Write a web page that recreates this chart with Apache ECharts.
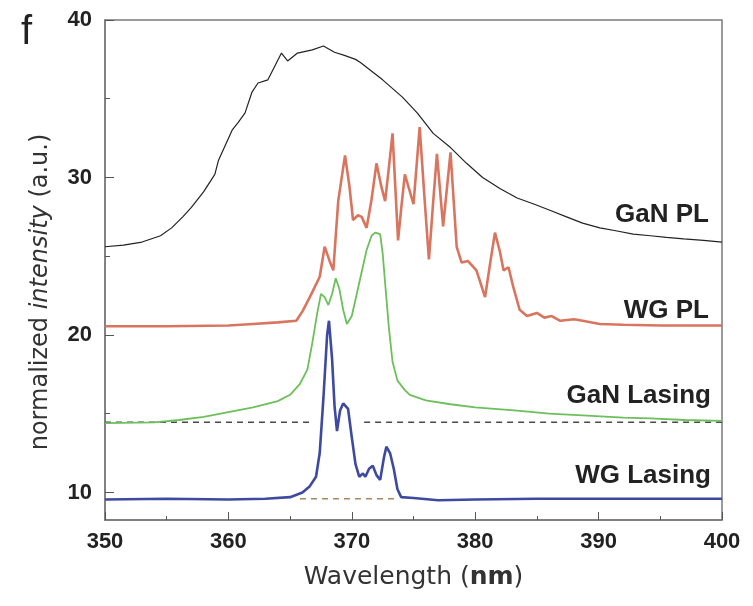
<!DOCTYPE html>
<html>
<head>
<meta charset="utf-8">
<script src="https://cdn.jsdelivr.net/npm/echarts@6/dist/echarts.min.js"></script>
<style>
  html, body { margin: 0; padding: 0; background: #fff; }
  #plChart { width: 753px; height: 606px; }
</style>
</head>
<body>
<div id="plChart"></div>
<script>
// 读图得到的数据 [波长nm, 强度]
var ganPL = [
  [350, 25.6], [351.5, 25.7], [353, 25.9], [354.5, 26.3], [355.4, 26.8], [356.3, 27.5],
  [357, 28.1], [358, 29.1], [358.9, 30.2], [359.2, 31.1], [360.3, 33.0], [360.8, 33.5],
  [361.35, 34.1], [361.9, 35.4], [362.4, 36.0], [363.2, 36.2], [364.3, 37.9], [364.8, 37.4],
  [365.6, 37.9], [366.8, 38.1], [367.7, 38.35], [368.6, 37.95], [369.4, 37.75], [370.3, 37.5],
  [370.7, 37.3], [372.5, 36.2], [374.1, 35.1], [375.3, 34.1], [376.6, 32.8], [378, 31.9],
  [379.3, 30.9], [380.6, 30.0], [382, 29.3], [383.4, 28.7], [384.8, 28.3], [386.1, 27.9],
  [387.4, 27.5], [388.7, 27.1], [390.1, 26.8], [391.5, 26.6], [392.8, 26.4], [394.2, 26.3],
  [395.5, 26.2], [396.9, 26.1], [398.5, 26.0], [400, 25.9]
];
var wgPL = [
  [350, 20.55], [355, 20.55], [360, 20.6], [362, 20.7], [364, 20.8], [365.5, 20.9],
  [366, 21.5], [366.6, 22.4], [367.4, 23.7], [367.8, 25.6], [368.2, 24.7], [368.5, 24.1],
  [368.9, 28.5], [369.45, 31.4], [369.8, 29.5], [370.1, 27.3], [370.5, 27.6], [370.8, 27.5],
  [371.2, 26.8], [371.6, 28.6], [372.0, 30.9], [372.4, 29.4], [372.7, 28.5], [373.0, 30.6],
  [373.3, 32.8], [373.75, 26.0], [374.0, 28.0], [374.3, 30.2], [375.0, 28.3], [375.5, 33.2],
  [375.9, 28.6], [376.25, 24.8], [376.6, 28.5], [376.9, 31.5], [377.4, 26.9], [378.0, 31.6],
  [378.5, 25.6], [378.9, 24.6], [379.4, 24.7], [380.1, 24.1], [380.8, 22.4], [381.2, 24.5],
  [381.6, 26.5], [382.0, 25.3], [382.3, 24.1], [382.7, 24.3], [383.1, 23.0], [383.6, 21.6],
  [384.2, 21.2], [385.0, 21.4], [385.6, 21.1], [386.2, 21.2], [386.9, 20.9], [388, 21.0],
  [388.7, 20.9], [390.1, 20.7], [392, 20.65], [395, 20.6], [400, 20.6]
];
var ganLasing = [
  [350, 14.4], [354, 14.45], [356, 14.6], [358, 14.8], [360, 15.1], [362, 15.4], [364, 15.8],
  [365, 16.2], [365.8, 16.9], [366.4, 17.8], [366.8, 19.5], [367.2, 21.4], [367.5, 22.6],
  [367.8, 22.4], [368.1, 21.9], [368.4, 22.6], [368.7, 23.6], [369.0, 22.9], [369.3, 21.6],
  [369.6, 20.7], [370.0, 21.2], [370.4, 22.6], [370.8, 24.0], [371.2, 25.4], [371.6, 26.3],
  [371.9, 26.5], [372.3, 26.4], [372.5, 25.2], [372.7, 23.3], [373.0, 20.5], [373.3, 18.3],
  [373.7, 17.1], [374.3, 16.5], [374.7, 16.2], [376, 15.85], [378, 15.6], [380, 15.4],
  [383.4, 15.2], [386, 15.0], [388.7, 14.9], [392, 14.75], [394.2, 14.7], [397, 14.6], [400, 14.55]
];
var wgLasing = [
  [350, 9.55], [355, 9.6], [360, 9.55], [363, 9.6], [365, 9.7], [366, 10.0], [366.6, 10.4],
  [367.1, 11.0], [367.4, 12.5], [367.7, 16.0], [368.0, 20.0], [368.15, 20.9], [368.4, 18.5],
  [368.6, 15.5], [368.8, 13.9], [369.05, 15.2], [369.3, 15.65], [369.7, 15.3], [370.0, 13.5],
  [370.3, 11.8], [370.6, 11.0], [370.9, 11.2], [371.1, 11.0], [371.4, 11.5], [371.7, 11.7],
  [372.0, 11.1], [372.3, 10.8], [372.6, 12.2], [372.8, 12.9], [373.1, 12.5], [373.4, 11.5],
  [373.7, 10.2], [374.0, 9.7], [375, 9.65], [377, 9.5], [380, 9.55], [385, 9.6], [390, 9.6],
  [395, 9.6], [400, 9.6]
];
// 虚线基线
var ganBase = [[350, 14.45], [366.6, 14.45], [368.5, null], [371, 14.45], [400, 14.45]];
var wgBase = [[365.8, 9.6], [373.7, 9.6]];

var yTicks = [10, 20, 30, 40];
var yMinorTicks = [15, 25, 35];
var curveLabels = ['GaN PL', 'WG PL', 'GaN Lasing', 'WG Lasing'];

var plChart = echarts.init(document.getElementById('plChart'));

function lineSeries(name, data, color, width, dash) {
  return {
    name: name,
    type: 'line',
    data: data,
    showSymbol: false,
    symbol: 'none',
    silent: true,
    connectNulls: false,
    lineStyle: { color: color, width: width, type: dash ? [6, 5] : 'solid' }
  };
}

var labelFont = { fontFamily: 'Liberation Sans', fontWeight: 'bold', fontSize: 26, fill: '#222' };

plChart.setOption({
  animation: false,
  grid: {
    left: 105, right: 31, top: 20, bottom: 86,
    show: true, borderColor: '#7a7a7a', borderWidth: 1.5
  },
  xAxis: {
    type: 'value', min: 350, max: 400, interval: 10,
    name: '{a|Wavelength (}{b|nm}{a|)}',
    nameLocation: 'middle', nameGap: 45,
    nameTextStyle: {
      rich: {
        a: { fontFamily: 'DejaVu Sans', fontSize: 25, color: '#333' },
        b: { fontFamily: 'DejaVu Sans', fontSize: 25, fontWeight: 'bold', color: '#333' }
      }
    },
    axisLine: { lineStyle: { color: '#7a7a7a', width: 1.5 } },
    axisTick: { inside: true, length: 8, lineStyle: { color: '#555' } },
    minorTick: { show: true, splitNumber: 2, length: 4, lineStyle: { color: '#555' } },
    splitLine: { show: false },
    axisLabel: {
      margin: 11, color: '#222', fontFamily: 'Liberation Sans',
      fontWeight: 'bold', fontSize: 22
    }
  },
  yAxis: [{
    type: 'value', min: 8.25, max: 40,
    axisLine: { show: true, lineStyle: { color: '#7a7a7a', width: 1.5 } },
    axisTick: { inside: true, length: 9, customValues: yTicks, lineStyle: { color: '#555' } },
    splitLine: { show: false },
    axisLabel: {
      customValues: yTicks, margin: 13, color: '#222',
      fontFamily: 'Liberation Sans', fontWeight: 'bold', fontSize: 22
    }
  }, {
    // 次刻度
    type: 'value', min: 8.25, max: 40, position: 'left',
    axisLine: { show: false },
    axisTick: { show: true, inside: true, length: 5, customValues: yMinorTicks, lineStyle: { color: '#555' } },
    axisLabel: { show: false },
    splitLine: { show: false }
  }],
  series: [
    lineSeries('ganBase', ganBase, '#4a4a4a', 1.5, true),
    lineSeries('wgBase', wgBase, '#a8875a', 1.5, true),
    lineSeries('GaN PL', ganPL, '#222222', 1.2),
    lineSeries('WG PL', wgPL, '#d9755f', 2.6),
    lineSeries('GaN Lasing', ganLasing, '#6cbf5a', 1.8),
    lineSeries('WG Lasing', wgLasing, '#3d4aa0', 2.6)
  ],
  graphic: [
    { type: 'text', left: 21, top: 13, style: { text: 'f', fontFamily: 'Liberation Sans', fontSize: 40, fill: '#222' } },
    {
      // 纵轴标题
      type: 'text', x: 41, y: 292, rotation: Math.PI / 2,
      style: {
        text: '{a|normalized }{b|intensity}{a| (a.u.)}',
        align: 'center', verticalAlign: 'middle',
        rich: {
          a: { fontFamily: 'DejaVu Sans', fontSize: 24, fill: '#333' },
          b: { fontFamily: 'DejaVu Sans', fontSize: 24, fontStyle: 'italic', fill: '#333' }
        }
      }
    },
    { type: 'text', right: 44, top: 202, style: Object.assign({ text: curveLabels[0] }, labelFont) },
    { type: 'text', right: 44, top: 298, style: Object.assign({ text: curveLabels[1] }, labelFont) },
    { type: 'text', right: 42, top: 383, style: Object.assign({ text: curveLabels[2] }, labelFont) },
    { type: 'text', right: 42, top: 463, style: Object.assign({ text: curveLabels[3] }, labelFont) }
  ]
});
</script>
</body>
</html>
